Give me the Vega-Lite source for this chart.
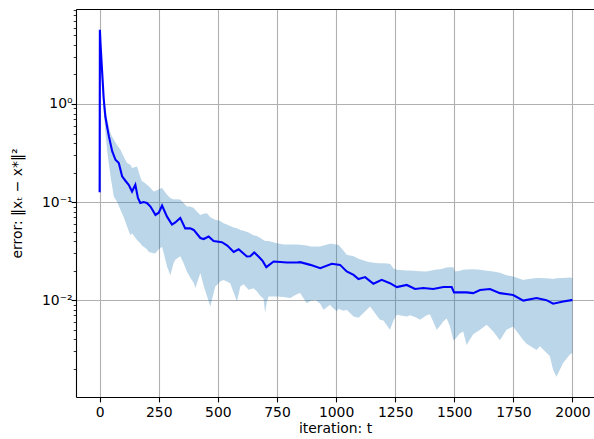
{
  "$schema": "https://vega.github.io/schema/vega-lite/v6.json",
  "width": 518,
  "height": 388,
  "autosize": {"type": "none"},
  "padding": {"left": 76, "top": 9, "right": 0, "bottom": 42},
  "background": "white",
  "datasets": {
    "mean": [
      {"t": 0, "err": 0.126}, {"t": 1, "err": 5.7}, {"t": 4, "err": 4.0}, {"t": 10, "err": 2.24},
      {"t": 17, "err": 1.15}, {"t": 24, "err": 0.75}, {"t": 32, "err": 0.58}, {"t": 39, "err": 0.47},
      {"t": 53, "err": 0.33}, {"t": 67, "err": 0.27}, {"t": 81, "err": 0.25}, {"t": 95, "err": 0.183},
      {"t": 109, "err": 0.165}, {"t": 123, "err": 0.15}, {"t": 137, "err": 0.128}, {"t": 151, "err": 0.15},
      {"t": 162, "err": 0.11}, {"t": 172, "err": 0.098}, {"t": 186, "err": 0.1}, {"t": 200, "err": 0.098},
      {"t": 215, "err": 0.09}, {"t": 236, "err": 0.074}, {"t": 250, "err": 0.078}, {"t": 264, "err": 0.092},
      {"t": 285, "err": 0.071}, {"t": 306, "err": 0.059}, {"t": 320, "err": 0.062}, {"t": 341, "err": 0.069},
      {"t": 362, "err": 0.054}, {"t": 383, "err": 0.054}, {"t": 398, "err": 0.052}, {"t": 426, "err": 0.043},
      {"t": 440, "err": 0.042}, {"t": 461, "err": 0.0446}, {"t": 482, "err": 0.04}, {"t": 517, "err": 0.039},
      {"t": 540, "err": 0.036}, {"t": 567, "err": 0.031}, {"t": 588, "err": 0.033}, {"t": 623, "err": 0.0279},
      {"t": 637, "err": 0.028}, {"t": 654, "err": 0.0306}, {"t": 672, "err": 0.0279}, {"t": 690, "err": 0.025},
      {"t": 705, "err": 0.0217}, {"t": 736, "err": 0.0248}, {"t": 792, "err": 0.0242}, {"t": 834, "err": 0.0242},
      {"t": 848, "err": 0.0244}, {"t": 891, "err": 0.0229}, {"t": 933, "err": 0.0212}, {"t": 982, "err": 0.0235},
      {"t": 1017, "err": 0.0229}, {"t": 1045, "err": 0.0196}, {"t": 1074, "err": 0.0181}, {"t": 1095, "err": 0.0164},
      {"t": 1123, "err": 0.0172}, {"t": 1158, "err": 0.0147}, {"t": 1193, "err": 0.0161}, {"t": 1228, "err": 0.0149},
      {"t": 1257, "err": 0.0136}, {"t": 1299, "err": 0.0143}, {"t": 1334, "err": 0.013}, {"t": 1369, "err": 0.0133},
      {"t": 1411, "err": 0.013}, {"t": 1454, "err": 0.0136}, {"t": 1489, "err": 0.0136}, {"t": 1499, "err": 0.012},
      {"t": 1552, "err": 0.012}, {"t": 1580, "err": 0.0118}, {"t": 1609, "err": 0.0127}, {"t": 1651, "err": 0.013},
      {"t": 1693, "err": 0.0118}, {"t": 1749, "err": 0.0113}, {"t": 1792, "err": 0.0099}, {"t": 1848, "err": 0.0105},
      {"t": 1890, "err": 0.01}, {"t": 1918, "err": 0.0092}, {"t": 1961, "err": 0.0097}, {"t": 1996, "err": 0.01},
      {"t": 2000, "err": 0.01}
    ],
    "band": [
      {"t": 1, "lo": 5.0, "hi": 5.7}, {"t": 10, "lo": 1.6, "hi": 2.6}, {"t": 17, "lo": 0.85, "hi": 1.2},
      {"t": 25, "lo": 0.5, "hi": 0.9}, {"t": 32, "lo": 0.33, "hi": 0.7}, {"t": 46, "lo": 0.183, "hi": 0.5},
      {"t": 60, "lo": 0.114, "hi": 0.433}, {"t": 74, "lo": 0.1, "hi": 0.38}, {"t": 88, "lo": 0.0835, "hi": 0.342},
      {"t": 102, "lo": 0.07, "hi": 0.29}, {"t": 116, "lo": 0.0565, "hi": 0.25}, {"t": 130, "lo": 0.046, "hi": 0.24},
      {"t": 137, "lo": 0.048, "hi": 0.222}, {"t": 158, "lo": 0.041, "hi": 0.231}, {"t": 172, "lo": 0.038, "hi": 0.18},
      {"t": 179, "lo": 0.036, "hi": 0.163}, {"t": 186, "lo": 0.035, "hi": 0.16}, {"t": 200, "lo": 0.033, "hi": 0.15},
      {"t": 208, "lo": 0.031, "hi": 0.145}, {"t": 229, "lo": 0.03, "hi": 0.128}, {"t": 236, "lo": 0.03, "hi": 0.13},
      {"t": 250, "lo": 0.033, "hi": 0.135}, {"t": 264, "lo": 0.035, "hi": 0.139}, {"t": 278, "lo": 0.0258, "hi": 0.125},
      {"t": 285, "lo": 0.022, "hi": 0.119}, {"t": 299, "lo": 0.018, "hi": 0.11}, {"t": 313, "lo": 0.024, "hi": 0.106},
      {"t": 320, "lo": 0.0258, "hi": 0.107}, {"t": 341, "lo": 0.028, "hi": 0.106}, {"t": 355, "lo": 0.024, "hi": 0.098},
      {"t": 369, "lo": 0.0196, "hi": 0.09}, {"t": 383, "lo": 0.017, "hi": 0.09}, {"t": 398, "lo": 0.015, "hi": 0.087},
      {"t": 405, "lo": 0.0133, "hi": 0.083}, {"t": 426, "lo": 0.0189, "hi": 0.074}, {"t": 440, "lo": 0.014, "hi": 0.076},
      {"t": 454, "lo": 0.011, "hi": 0.077}, {"t": 468, "lo": 0.0086, "hi": 0.07}, {"t": 489, "lo": 0.0138, "hi": 0.066},
      {"t": 510, "lo": 0.0155, "hi": 0.064}, {"t": 524, "lo": 0.0161, "hi": 0.061}, {"t": 538, "lo": 0.0155, "hi": 0.059},
      {"t": 552, "lo": 0.0149, "hi": 0.057}, {"t": 567, "lo": 0.012, "hi": 0.055}, {"t": 581, "lo": 0.0097, "hi": 0.054},
      {"t": 595, "lo": 0.0138, "hi": 0.052}, {"t": 609, "lo": 0.0145, "hi": 0.051}, {"t": 630, "lo": 0.0128, "hi": 0.049},
      {"t": 651, "lo": 0.0132, "hi": 0.046}, {"t": 665, "lo": 0.0123, "hi": 0.045}, {"t": 680, "lo": 0.011, "hi": 0.043},
      {"t": 693, "lo": 0.0104, "hi": 0.041}, {"t": 700, "lo": 0.0074, "hi": 0.04}, {"t": 707, "lo": 0.0095, "hi": 0.04},
      {"t": 714, "lo": 0.0109, "hi": 0.04}, {"t": 750, "lo": 0.0109, "hi": 0.038}, {"t": 778, "lo": 0.0108, "hi": 0.037},
      {"t": 806, "lo": 0.0105, "hi": 0.037}, {"t": 834, "lo": 0.0115, "hi": 0.037}, {"t": 848, "lo": 0.0118, "hi": 0.0367},
      {"t": 876, "lo": 0.0093, "hi": 0.036}, {"t": 891, "lo": 0.0098, "hi": 0.0353}, {"t": 912, "lo": 0.0101, "hi": 0.0353},
      {"t": 933, "lo": 0.0092, "hi": 0.0353}, {"t": 947, "lo": 0.008, "hi": 0.036}, {"t": 975, "lo": 0.009, "hi": 0.0376},
      {"t": 982, "lo": 0.0085, "hi": 0.0376}, {"t": 1003, "lo": 0.0077, "hi": 0.0367}, {"t": 1010, "lo": 0.0082, "hi": 0.0367},
      {"t": 1031, "lo": 0.0078, "hi": 0.032}, {"t": 1045, "lo": 0.008, "hi": 0.029}, {"t": 1074, "lo": 0.0068, "hi": 0.028},
      {"t": 1095, "lo": 0.0066, "hi": 0.0265}, {"t": 1130, "lo": 0.008, "hi": 0.0248}, {"t": 1144, "lo": 0.0086, "hi": 0.0243},
      {"t": 1179, "lo": 0.0066, "hi": 0.0238}, {"t": 1186, "lo": 0.0063, "hi": 0.0238}, {"t": 1200, "lo": 0.0062, "hi": 0.0238},
      {"t": 1228, "lo": 0.005, "hi": 0.0235}, {"t": 1243, "lo": 0.0062, "hi": 0.021}, {"t": 1257, "lo": 0.0071, "hi": 0.0204},
      {"t": 1299, "lo": 0.0068, "hi": 0.0201}, {"t": 1313, "lo": 0.007, "hi": 0.0201}, {"t": 1341, "lo": 0.0066, "hi": 0.0198},
      {"t": 1355, "lo": 0.0063, "hi": 0.0197}, {"t": 1383, "lo": 0.007, "hi": 0.0196}, {"t": 1397, "lo": 0.0072, "hi": 0.02},
      {"t": 1426, "lo": 0.005, "hi": 0.0205}, {"t": 1440, "lo": 0.0055, "hi": 0.0207}, {"t": 1454, "lo": 0.0061, "hi": 0.021},
      {"t": 1468, "lo": 0.0065, "hi": 0.0215}, {"t": 1482, "lo": 0.0054, "hi": 0.0217}, {"t": 1496, "lo": 0.0039, "hi": 0.0217},
      {"t": 1503, "lo": 0.004, "hi": 0.0196}, {"t": 1524, "lo": 0.0046, "hi": 0.02}, {"t": 1538, "lo": 0.0048, "hi": 0.0204},
      {"t": 1552, "lo": 0.0035, "hi": 0.0205}, {"t": 1580, "lo": 0.0045, "hi": 0.0207}, {"t": 1609, "lo": 0.005, "hi": 0.0204},
      {"t": 1637, "lo": 0.0056, "hi": 0.02}, {"t": 1665, "lo": 0.0048, "hi": 0.0196}, {"t": 1693, "lo": 0.0039, "hi": 0.019},
      {"t": 1721, "lo": 0.005, "hi": 0.018}, {"t": 1749, "lo": 0.0054, "hi": 0.0174}, {"t": 1792, "lo": 0.0039, "hi": 0.0161},
      {"t": 1806, "lo": 0.0036, "hi": 0.0163}, {"t": 1848, "lo": 0.0031, "hi": 0.0168}, {"t": 1862, "lo": 0.0034, "hi": 0.0168},
      {"t": 1904, "lo": 0.0027, "hi": 0.0166}, {"t": 1918, "lo": 0.00195, "hi": 0.0164}, {"t": 1932, "lo": 0.00166, "hi": 0.0167},
      {"t": 1961, "lo": 0.0023, "hi": 0.0168}, {"t": 1989, "lo": 0.0028, "hi": 0.017}, {"t": 2000, "lo": 0.0029, "hi": 0.0168}
    ]
  },
  "config": {
    "view": {"stroke": null},
    "font": "DejaVu Sans",
    "axis": {
      "labelFont": "DejaVu Sans",
      "labelFontSize": 13.9,
      "labelColor": "#000000",
      "titleFont": "DejaVu Sans",
      "titleFontSize": 13.9,
      "titleFontWeight": "normal",
      "titleColor": "#000000",
      "domainColor": "#000000",
      "domainWidth": 1.1,
      "tickColor": "#000000",
      "gridColor": "#b0b0b0",
      "gridWidth": 1.1,
      "labelOverlap": false,
      "labelFlush": false,
      "labelBound": false
    }
  },
  "layer": [
    {
      "data": {"name": "band"},
      "mark": {"type": "area", "color": "#1f77b4", "opacity": 0.3},
      "encoding": {
        "x": {
          "field": "t", "type": "quantitative",
          "scale": {"domain": [-100, 2091], "nice": false, "zero": false},
          "axis": {
            "orient": "bottom",
            "title": "iteration: t",
            "format": "d",
            "values": [0, 250, 500, 750, 1000, 1250, 1500, 1750, 2000],
            "tickSize": 4.9, "tickWidth": 1.1, "labelPadding": 4,
            "grid": true, "titlePadding": 2
          }
        },
        "y": {
          "field": "lo", "type": "quantitative",
          "scale": {"type": "log", "domain": [0.00103, 9.3], "nice": false},
          "axis": {
            "title": "error: ‖xₜ − x*‖²",
            "values": [0.002, 0.003, 0.004, 0.005, 0.006, 0.007, 0.008, 0.009, 0.01, 0.02, 0.03, 0.04, 0.05, 0.06, 0.07, 0.08, 0.09, 0.1, 0.2, 0.3, 0.4, 0.5, 0.6, 0.7, 0.8, 0.9, 1, 2, 3, 4, 5, 6, 7, 8, 9],
            "labelExpr": "datum.value == 1 ? '10⁰' : datum.value == 0.1 ? '10⁻¹' : datum.value == 0.01 ? '10⁻²' : ''",
            "tickSize": {"condition": {"test": "datum.value == 1 || datum.value == 0.1 || datum.value == 0.01", "value": 4.9}, "value": 2.8},
            "tickWidth": {"condition": {"test": "datum.value == 1 || datum.value == 0.1 || datum.value == 0.01", "value": 1.1}, "value": 0.8},
            "gridOpacity": {"condition": {"test": "datum.value == 1 || datum.value == 0.1 || datum.value == 0.01", "value": 1}, "value": 0},
            "grid": true,
            "labelPadding": -1,
            "titlePadding": 17
          }
        },
        "y2": {"field": "hi"}
      }
    },
    {
      "data": {"name": "mean"},
      "mark": {"type": "line", "color": "#0000ff", "strokeWidth": 2.1},
      "encoding": {
        "x": {
          "field": "t", "type": "quantitative",
          "axis": {"orient": "top", "title": null, "labels": false, "ticks": false, "grid": false, "domain": true}
        },
        "y": {"field": "err", "type": "quantitative"}
      }
    }
  ],
  "resolve": {"axis": {"x": "independent"}}
}
